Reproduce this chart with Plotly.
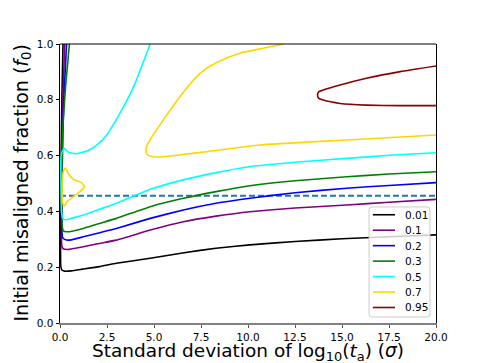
import plotly.graph_objects as go

# contour levels (legend labels) and their colours
levels = ["0.01", "0.1", "0.2", "0.3", "0.5", "0.7", "0.95"]
colors = ["black", "purple", "blue", "green", "cyan", "gold", "darkred"]

# contour lines: sigma (x) and f0 (y)
black_x = [0.16, 0.1, 0.06, 0.04, 0.03, 0.04, 0.1, 0.25, 0.6, 1.2, 2.1, 3.0, 4.8, 6.6, 8.3, 10.1, 12.5, 15.0, 17.5, 20.0]
black_f = [1.0, 0.8, 0.6, 0.4, 0.25, 0.205, 0.19, 0.186, 0.187, 0.193, 0.202, 0.214, 0.232, 0.252, 0.268, 0.28, 0.292, 0.302, 0.309, 0.316]

purple_x = [0.25, 0.15, 0.1, 0.08, 0.08, 0.1, 0.2, 0.5, 1.24, 2.0, 3.0, 4.8, 6.56, 8.3, 10.1, 12.5, 15.25, 17.5, 20.0]
purple_f = [1.0, 0.8, 0.6, 0.4, 0.3, 0.275, 0.265, 0.264, 0.273, 0.284, 0.297, 0.333, 0.363, 0.383, 0.399, 0.412, 0.423, 0.433, 0.443]

blue_x = [0.35, 0.2, 0.13, 0.1, 0.1, 0.15, 0.3, 0.6, 1.24, 2.0, 3.0, 4.8, 6.56, 8.3, 10.1, 12.5, 15.25, 17.5, 20.0]
blue_f = [1.0, 0.8, 0.6, 0.45, 0.33, 0.305, 0.298, 0.298, 0.309, 0.322, 0.339, 0.375, 0.405, 0.429, 0.447, 0.467, 0.483, 0.493, 0.503]

green_x = [0.5, 0.3, 0.15, 0.1, 0.1, 0.12, 0.18, 0.35, 0.7, 1.24, 2.0, 3.0, 4.8, 6.56, 8.3, 10.1, 12.5, 15.25, 17.5, 20.0]
green_f = [1.0, 0.85, 0.7, 0.55, 0.4, 0.345, 0.33, 0.327, 0.33, 0.339, 0.355, 0.375, 0.417, 0.447, 0.471, 0.492, 0.51, 0.524, 0.534, 0.542]

cyan_x = [20.0, 17.5, 15.25, 12.5, 10.1, 8.3, 6.56, 4.8, 3.0, 2.0, 1.24, 0.6, 0.3, 0.15, 0.08, 0.05, 0.05, 0.1, 0.23, 0.4, 0.6, 0.9, 1.5, 2.0, 2.5, 3.0, 3.5, 4.0, 4.4, 4.8]
cyan_f = [0.61, 0.601, 0.59, 0.576, 0.56, 0.539, 0.513, 0.479, 0.429, 0.405, 0.387, 0.375, 0.37, 0.375, 0.4, 0.5, 0.59, 0.612, 0.626, 0.614, 0.609, 0.607, 0.618, 0.64, 0.675, 0.73, 0.79, 0.86, 0.93, 1.0]

gold_loop_x = [0.27, 0.35, 0.71, 1.06, 1.3, 1.15, 0.71, 0.44, 0.3, 0.18, 0.12, 0.12, 0.17, 0.27]
gold_loop_f = [0.42, 0.433, 0.453, 0.471, 0.488, 0.503, 0.515, 0.536, 0.555, 0.545, 0.5, 0.45, 0.425, 0.42]
gold_x = [11.9, 10.8, 9.57, 8.6, 7.8, 7.27, 6.38, 5.5, 4.79, 4.62, 4.57, 4.65, 4.9, 5.3, 6.5, 7.8, 10.6, 15.25, 20.0]
gold_f = [1.0, 0.985, 0.967, 0.942, 0.913, 0.883, 0.811, 0.728, 0.656, 0.635, 0.618, 0.603, 0.597, 0.595, 0.604, 0.614, 0.638, 0.656, 0.674]

red_x = [20.0, 18.1, 16.3, 14.9, 14.0, 13.75, 13.7, 13.75, 14.0, 14.9, 16.3, 18.1, 20.0]
red_f = [0.921, 0.901, 0.877, 0.853, 0.835, 0.828, 0.817, 0.806, 0.799, 0.787, 0.781, 0.779, 0.779]

dash_x = [0.0, 20.0]
dash_f = [0.456, 0.456]

xticks = [0, 2.5, 5, 7.5, 10, 12.5, 15, 17.5, 20]
yticks = [0, 0.2, 0.4, 0.6, 0.8, 1.0]

curves = [
    [(black_x, black_f)],
    [(purple_x, purple_f)],
    [(blue_x, blue_f)],
    [(green_x, green_f)],
    [(cyan_x, cyan_f)],
    [(gold_loop_x, gold_loop_f), (gold_x, gold_f)],
    [(red_x, red_f)],
]

fig = go.Figure()

fig.add_trace(go.Scatter(x=dash_x, y=dash_f, mode="lines", showlegend=False,
                         line=dict(color="#1f77b4", width=2, dash="6px,3px")))

for lab, col, segs in zip(levels, colors, curves):
    for xs, ys in segs:
        fig.add_trace(go.Scatter(
            x=xs, y=ys, mode="lines", name=lab, showlegend=False,
            line=dict(color=col, width=1.6, shape="spline", smoothing=0.4)
        ))

# legend box drawn by hand (plotly's own legend rows are too tall)
bx0, bx1, by0, by1 = 0.822, 0.984, 0.0215, 0.416
rx, ry = 0.008, 0.011
box_path = (f"M{bx0+rx},{by0} L{bx1-rx},{by0} Q{bx1},{by0} {bx1},{by0+ry} "
            f"L{bx1},{by1-ry} Q{bx1},{by1} {bx1-rx},{by1} L{bx0+rx},{by1} "
            f"Q{bx0},{by1} {bx0},{by1-ry} L{bx0},{by0+ry} Q{bx0},{by0} {bx0+rx},{by0} Z")
shapes = [
    dict(type="line", xref="paper", yref="paper", x0=0, x1=1, y0=1, y1=1,
         line=dict(color="black", width=1)),
    dict(type="path", xref="paper", yref="paper", path=box_path,
         fillcolor="rgba(255,255,255,0.8)", line=dict(color="#cccccc", width=1)),
]
annotations = []
for i, (lab, col) in enumerate(zip(levels, colors)):
    ry_i = 0.388 - i * 0.0554
    shapes.append(dict(type="line", xref="paper", yref="paper", x0=0.832, x1=0.891,
                       y0=ry_i, y1=ry_i, line=dict(color=col, width=1.6)))
    annotations.append(dict(text=lab, xref="paper", yref="paper", x=0.912, y=ry_i,
                            xanchor="left", yanchor="middle", showarrow=False,
                            font=dict(size=10.5)))

annotations += [
    dict(text="Standard deviation of log<sub>10</sub>(<i>t</i><sub>a</sub>) (<i>σ</i>)",
         xref="paper", yref="paper", x=0.5, y=0, xanchor="center", yanchor="top",
         yshift=-15, showarrow=False, font=dict(size=18.5)),
    dict(text="Initial misaligned fraction (<i>f</i><sub>0</sub>)",
         xref="paper", yref="paper", x=0, y=0.5, xanchor="center", yanchor="middle",
         xshift=-38, textangle=-90, showarrow=False, font=dict(size=19)),
]

# page body has an 8px margin, so the figure is 8px smaller than the window
fig.update_layout(
    width=476, height=355,
    margin=dict(l=52, r=48, t=36, b=40, autoexpand=False),
    plot_bgcolor="white", paper_bgcolor="white",
    font=dict(family="DejaVu Sans", size=10.5, color="black"),
    showlegend=False,
    shapes=shapes,
    annotations=annotations,
)

fig.update_xaxes(
    range=[0, 20], tickvals=xticks, tickformat=".1f", automargin=False,
    showline=True, linecolor="#808080", linewidth=1.5, mirror=False,
    ticks="outside", ticklen=3.5, tickcolor="#555555", showgrid=False, zeroline=False,
)
fig.update_yaxes(
    range=[0, 1], tickvals=yticks, tickformat=".1f", automargin=False,
    showline=True, linecolor="black", linewidth=1, mirror=True,
    ticks="outside", ticklen=3.5, tickcolor="black", showgrid=False, zeroline=False,
)

fig.write_html("out.html")
